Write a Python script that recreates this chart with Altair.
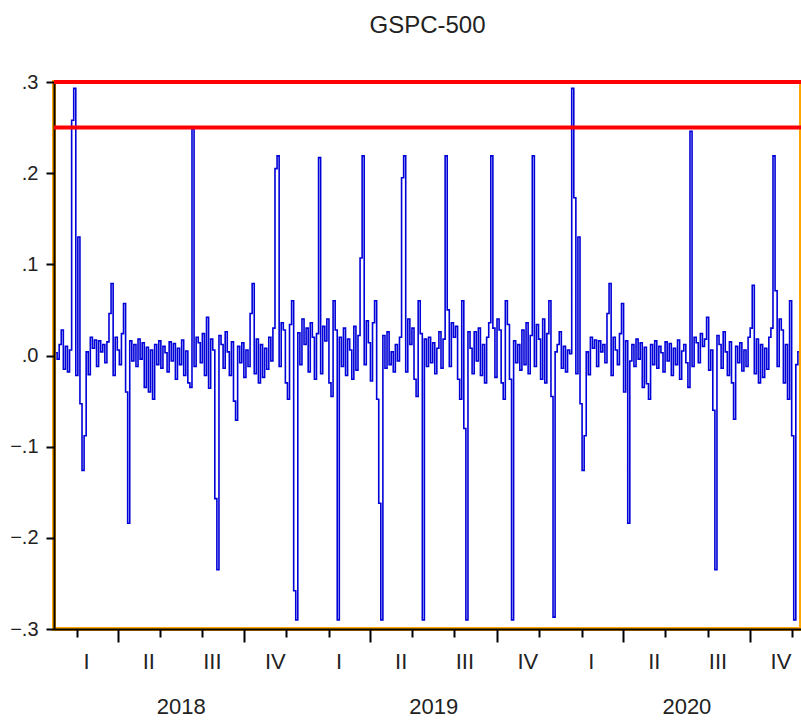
import altair as alt
import pandas as pd

# GSPC-500 daily returns, one observation every third calendar day from 2 Jan 2018
returns = [
    0.003, -0.004, 0.012, 0.028, -0.015, 0.010, -0.018, 0.006, 0.258, 0.293,
    -0.022, 0.130, -0.053, -0.126, -0.088, 0.004, -0.021, 0.020, 0.008, 0.017,
    -0.012, 0.016, 0.004, 0.012, -0.008, 0.015, 0.046, 0.079, -0.022, 0.020,
    0.006, -0.010, 0.024, 0.057, -0.040, -0.184, 0.016, -0.006, 0.012, -0.012,
    0.018, -0.004, 0.014, -0.035, 0.009, -0.040, 0.006, -0.048, 0.012, -0.010,
    0.016, -0.014, 0.010, 0.003, -0.018, 0.015, -0.006, 0.013, -0.026, 0.008,
    -0.010, 0.017, -0.022, 0.005, -0.030, -0.035, 0.249, -0.012, 0.020, 0.014,
    -0.008, 0.024, -0.022, 0.042, -0.036, 0.018, 0.006, -0.157, -0.235, 0.022,
    0.012, -0.014, 0.026, 0.004, -0.022, 0.015, -0.050, -0.071, 0.010, -0.008,
    0.014, -0.024, 0.006, -0.012, 0.046, 0.079, -0.020, 0.018, -0.030, 0.012,
    -0.024, 0.008, -0.015, 0.020, -0.006, 0.030, 0.205, 0.219, -0.012, 0.036,
    0.028, -0.030, -0.048, 0.034, 0.060, -0.258, -0.290, 0.025, -0.010, 0.040,
    0.012, 0.030, -0.018, 0.036, 0.020, -0.026, 0.024, 0.217, -0.020, 0.032,
    0.016, 0.040, -0.030, -0.045, 0.060, 0.028, -0.290, 0.020, -0.012, 0.030,
    -0.022, 0.018, 0.006, -0.026, 0.032, -0.016, 0.022, 0.107, 0.219, -0.010,
    0.038, 0.014, -0.028, 0.036, 0.060, -0.048, -0.162, -0.290, 0.022, -0.014,
    0.026, -0.010, 0.004, -0.018, 0.012, -0.006, 0.020, 0.195, 0.219, -0.018,
    0.040, 0.012, 0.030, -0.026, -0.045, 0.060, 0.024, -0.290, 0.018, -0.012,
    0.020, -0.008, 0.014, -0.020, 0.008, 0.026, -0.014, 0.018, 0.219, 0.050,
    -0.012, 0.036, 0.020, 0.032, -0.026, -0.048, 0.060, -0.080, -0.290, 0.026,
    0.008, -0.020, 0.026, -0.006, 0.030, -0.022, 0.012, -0.030, 0.020, 0.036,
    0.219, 0.030, -0.024, 0.040, 0.028, -0.030, -0.048, 0.060, 0.034, -0.026,
    -0.290, 0.016, -0.008, 0.012, -0.016, 0.028, -0.010, 0.036, -0.020, 0.022,
    0.219, -0.012, 0.034, 0.018, -0.026, 0.040, -0.030, 0.024, 0.060, -0.045,
    -0.287, 0.004, 0.012, 0.026, -0.014, 0.010, -0.018, 0.006, 0.002, 0.293,
    0.173, -0.020, 0.130, -0.053, -0.126, -0.088, 0.004, -0.021, 0.020, 0.008,
    0.017, -0.012, 0.016, 0.004, 0.012, -0.008, 0.046, 0.079, -0.022, 0.020,
    0.006, -0.010, 0.024, 0.057, -0.040, 0.016, -0.184, -0.006, 0.012, -0.012,
    0.018, -0.004, 0.014, -0.035, 0.009, -0.031, -0.048, 0.012, -0.010, 0.016,
    -0.014, 0.010, 0.003, -0.018, 0.015, -0.006, 0.013, -0.022, 0.008, -0.010,
    0.017, -0.026, 0.005, 0.012, -0.008, -0.035, 0.246, -0.012, 0.020, 0.014,
    -0.008, 0.024, 0.010, 0.018, 0.042, -0.016, 0.006, -0.060, -0.235, 0.022,
    0.012, -0.014, 0.026, 0.004, -0.022, 0.015, -0.030, -0.070, 0.010, -0.008,
    0.014, -0.017, 0.006, -0.012, 0.020, 0.030, 0.077, -0.020, 0.018, -0.030,
    0.012, -0.024, 0.008, -0.015, 0.020, 0.030, 0.219, 0.071, -0.012, 0.040,
    0.028, -0.030, 0.012, -0.048, 0.060, -0.088, -0.290, -0.010, 0.004,
]
first_obs = "2018-01-02"

quarter_labels = ["I", "II", "III", "IV"] * 3
quarter_mid = [
    "2018-02-15", "2018-05-16", "2018-08-16", "2018-11-15",
    "2019-02-15", "2019-05-16", "2019-08-16", "2019-11-15",
    "2020-02-15", "2020-05-16", "2020-08-16", "2020-11-15",
]
year_labels = ["2018", "2019", "2020"]
year_mid = ["2018-07-02", "2019-07-02", "2020-07-02"]

y_ticks = [-0.3, -0.2, -0.1, 0.0, 0.1, 0.2, 0.3]

obs_dates = pd.date_range(first_obs, periods=len(returns), freq="3D")
series = pd.DataFrame({"date": obs_dates.strftime("%Y-%m-%d"), "value": returns})
quarters = pd.DataFrame({"date": quarter_mid, "label": quarter_labels})
years = pd.DataFrame({"date": year_mid, "label": year_labels})
edge = pd.DataFrame({"level": [0.3, 0.25]})

month_ticks = [
    alt.DateTime(year=d.year, month=d.month, date=1, utc=True)
    for d in pd.date_range("2018-02-01", "2020-12-01", freq="MS")
]

PLOT_W, PLOT_H = 747, 547
BLUE = "#0000d8"
INK = "#222222"
SANS = "Liberation Sans, Arial, sans-serif"

x_scale = alt.Scale(
    type="utc",
    domain=[
        alt.DateTime(year=2017, month=12, date=30, utc=True),
        alt.DateTime(year=2020, month=12, date=14, utc=True),
    ],
)
y_scale = alt.Scale(domain=[-0.3, 0.3], nice=False, zero=False)

line = alt.Chart(series).mark_line(
    color=BLUE, strokeWidth=1.6, interpolate="step"
).encode(
    x=alt.X(
        "date:T",
        scale=x_scale,
        title=None,
        axis=alt.Axis(
            values=month_ticks,
            labels=False,
            grid=False,
            domainColor="black",
            domainWidth=2,
            tickColor="black",
            tickWidth=2,
            tickSize={"condition": {"test": "utcmonth(datum.value) % 3 === 0", "value": 13}, "value": 8},
        ),
    ),
    y=alt.Y(
        "value:Q",
        scale=y_scale,
        title=None,
        axis=alt.Axis(
            values=y_ticks,
            labelExpr="replace(format(datum.value, '.1f'), '0.', '.')",
            grid=False,
            domainColor="black",
            domainWidth=2,
            tickColor="black",
            tickWidth=2,
            tickSize=8,
            labelFont=SANS,
            labelFontSize=20,
            labelColor=INK,
            labelPadding=8,
        ),
    ),
)

edges = alt.Chart(edge).mark_rule(color="red", strokeWidth=4).encode(
    y=alt.Y("level:Q", scale=y_scale, title=None),
)

quarter_text = alt.Chart(quarters).mark_text(
    font=SANS, fontSize=22, baseline="middle", align="center", color=INK
).encode(
    x=alt.X("date:T", scale=x_scale, title=None),
    y=alt.value(580),
    text="label:N",
)

year_text = alt.Chart(years).mark_text(
    font=SANS, fontSize=22, baseline="middle", align="center", color=INK
).encode(
    x=alt.X("date:T", scale=x_scale, title=None),
    y=alt.value(625),
    text="label:N",
)

chart = (
    alt.layer(line, quarter_text, year_text, edges)
    .properties(
        width=PLOT_W,
        height=PLOT_H,
        autosize=alt.AutoSizeParams(type="none"),
        padding={"left": 54, "right": 0, "top": 82, "bottom": 95},
        title=alt.TitleParams(
            "GSPC-500",
            font=SANS,
            fontSize=24,
            fontWeight="normal",
            color=INK,
            anchor="middle",
            offset=34,
        ),
    )
    .configure(
        background="white",
        view=alt.ViewConfig(stroke="orange", strokeWidth=4),
    )
)

chart.save("out.html", embed_options={"renderer": "svg", "actions": False})
